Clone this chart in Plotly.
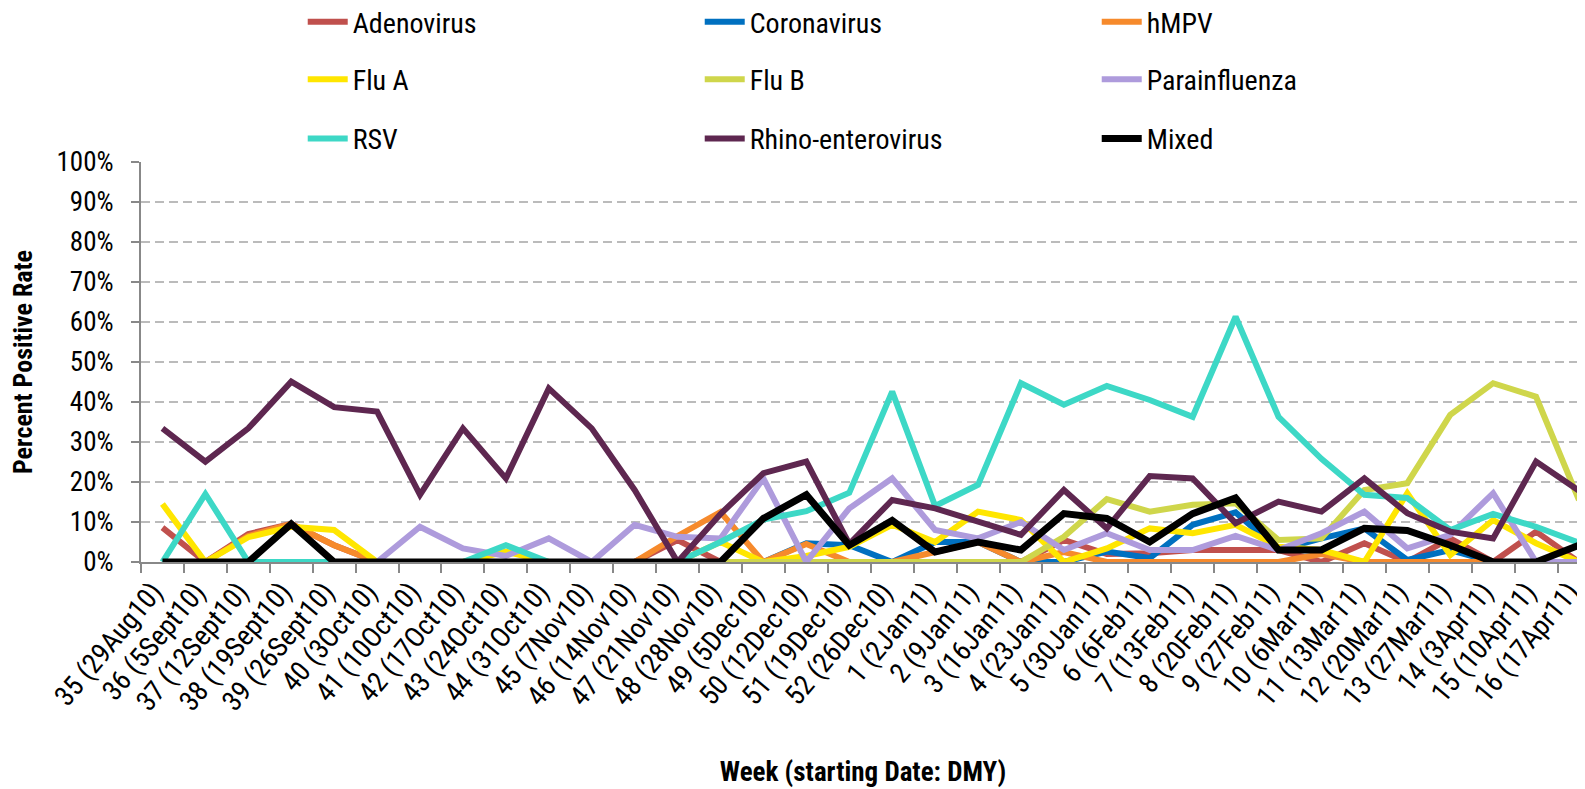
import plotly.graph_objects as go

weeks = ['35 (29Aug10)', '36 (5Sept10)', '37 (12Sept10)', '38 (19Sept10)', '39 (26Sept10)',
         '40 (3Oct10)', '41 (10Oct10)', '42 (17Oct10)', '43 (24Oct10)', '44 (31Oct10)',
         '45 (7Nov10)', '46 (14Nov10)', '47 (21Nov10)', '48 (28Nov10)', '49 (5Dec10)',
         '50 (12Dec10)', '51 (19Dec10)', '52 (26Dec10)', '1 (2Jan11)', '2 (9Jan11)',
         '3 (16Jan11)', '4 (23Jan11)', '5 (30Jan11)', '6 (6Feb11)', '7 (13Feb11)',
         '8 (20Feb11)', '9 (27Feb11)', '10 (6Mar11)', '11 (13Mar11)', '12 (20Mar11)',
         '13 (27Mar11)', '14 (3Apr11)', '15 (10Apr11)', '16 (17Apr11)']

# percent positive per week
adenovirus = [8.6, 0, 7, 9.5, 4.2, 0, 0, 0, 0, 0, 0, 0, 5.5, 0, 0, 0, 0,
              0, 0, 0, 0, 5.5, 2, 2.2, 3, 3, 3, 0, 4.7, 0, 5.9, 0, 7.6, 0]
coronavirus = [0, 0, 0, 0, 0, 0, 0, 0, 0, 0, 0, 0, 0, 0, 0, 4.7, 4.2,
               0, 5, 5, 0, 0, 2.6, 1, 9.3, 12.4, 3, 5.9, 8.4, 0.5, 3, 0, 0, 0]
hmpv = [0, 0, 6.5, 9.5, 4.2, 0, 0, 0, 0, 0, 0, 0, 6.5, 12.5, 0, 4.5, 0,
        0, 2.5, 5, 0, 2.5, 0, 0, 0, 0, 0, 2, 0, 0, 0, 0, 0, 0]
flu_a = [14.5, 0, 6.2, 8.8, 8, 0, 0, 0, 2.6, 0, 0, 0, 0, 5, 0, 1.5, 3.8,
         9.3, 5, 12.6, 10.5, 0, 3.4, 8.4, 7.2, 9.3, 3.8, 3, 0, 17.2, 1.7, 10.5, 4.7, 0]
flu_b = [0, 0, 0, 0, 0, 0, 0, 0, 0, 0, 0, 0, 0, 0, 0, 0, 0,
         0, 0, 0, 0, 6.3, 15.7, 12.6, 14.3, 14.7, 5.5, 5.9, 18, 19.7, 36.8, 44.7, 41.3, 15.5]
parainfluenza = [0, 0, 0, 0, 0, 0, 8.8, 3.4, 1.5, 5.9, 0, 9.3, 6.3, 5.9, 20.9, 0, 13.4,
                 20.9, 8, 5.9, 10, 3, 7.2, 3, 3, 6.5, 3, 7.2, 12.6, 3.4, 6.8, 17.2, 0, 0]
rsv = [0, 17, 0, 0, 0, 0, 0, 0, 4.2, 0, 0, 0, 0, 5, 10.6, 12.7, 17.3,
       42.6, 14, 19.3, 44.7, 39.3, 44, 40.5, 36.3, 61.3, 36.3, 25.8, 16.8, 16, 8, 12, 8.8, 4.8]
rhino = [33.4, 25.1, 33.4, 45.1, 38.7, 37.6, 16.8, 33.4, 20.9, 43.4, 33.4, 18, 0, 12, 22.2, 25.1, 4.5,
         15.5, 13.4, 10, 6.8, 18, 8.4, 21.5, 20.9, 9.7, 15.1, 12.6, 20.9, 12.2, 7.6, 5.9, 25.1, 17.8]
mixed = [0, 0, 0, 9.5, 0, 0, 0, 0, 0, 0, 0, 0, 0, 0, 10.9, 16.8, 4.2,
         10.4, 2.5, 5, 3, 12.1, 10.9, 5, 12.1, 16, 3, 3, 8.4, 7.9, 4.2, 0, 0, 4.2]

series = [
    ('Adenovirus', adenovirus, '#C0504D', 'legend'),
    ('Coronavirus', coronavirus, '#0070C0', 'legend'),
    ('hMPV', hmpv, '#F68A2C', 'legend'),
    ('Flu A', flu_a, '#FFE600', 'legend2'),
    ('Flu B', flu_b, '#CFD64B', 'legend2'),
    ('Parainfluenza', parainfluenza, '#AE9BDC', 'legend2'),
    ('RSV', rsv, '#3DD8C6', 'legend3'),
    ('Rhino-enterovirus', rhino, '#5E2750', 'legend3'),
    ('Mixed', mixed, '#000000', 'legend3'),
]

font = 'Liberation Sans Narrow, Arial Narrow, Roboto Condensed, sans-serif'

fig = go.Figure()
for name, vals, color, leg in series:
    fig.add_trace(go.Scatter(
        x=weeks, y=vals, mode='lines', name=name, legend=leg,
        line=dict(color=color, width=7 if name == 'Mixed' else 6),
    ))

leg_style = dict(orientation='h', x=0.112, xanchor='left', yanchor='middle',
                 entrywidth=342, entrywidthmode='pixels', itemwidth=40,
                 font=dict(family=font, size=28, color='black'),
                 bgcolor='rgba(0,0,0,0)', borderwidth=0)

# page body adds an 8px offset, so the figure is 8px smaller than the window
fig.update_layout(
    width=1577, height=781,
    margin=dict(l=133, r=0, t=154, b=227, autoexpand=False),
    plot_bgcolor='white', paper_bgcolor='white',
    font=dict(family=font, size=26, color='black'),
    legend=dict(y=1.35, **leg_style),
    legend2=dict(y=1.206, **leg_style),
    legend3=dict(y=1.058, **leg_style),
)
fig.update_xaxes(
    type='category', range=[-0.5, 33.14], automargin=False,
    showline=True, linecolor='#888888', linewidth=2,
    ticks='outside', tickson='boundaries', ticklen=9, tickcolor='#888888', tickwidth=2,
    tickangle=-50, tickfont=dict(family=font, size=28), ticklabelshift=-9,
    showgrid=False,
    title=dict(text='<b>Week (starting Date: DMY)</b>', font=dict(family=font, size=27), standoff=46),
)
fig.update_yaxes(
    range=[0, 100], dtick=10, ticksuffix='%', automargin=False,
    showline=True, linecolor='#888888', linewidth=2,
    ticks='outside', ticklen=8, tickcolor='#888888', tickwidth=2,
    ticklabelstandoff=12, tickfont=dict(family=font, size=27),
    showgrid=True, gridcolor='#BBBBBB', gridwidth=2, griddash='9px,5px',
    zeroline=False,
    title=dict(text='<b>Percent Positive Rate</b>', font=dict(family=font, size=26), standoff=28),
)

fig.write_html('out.html')
